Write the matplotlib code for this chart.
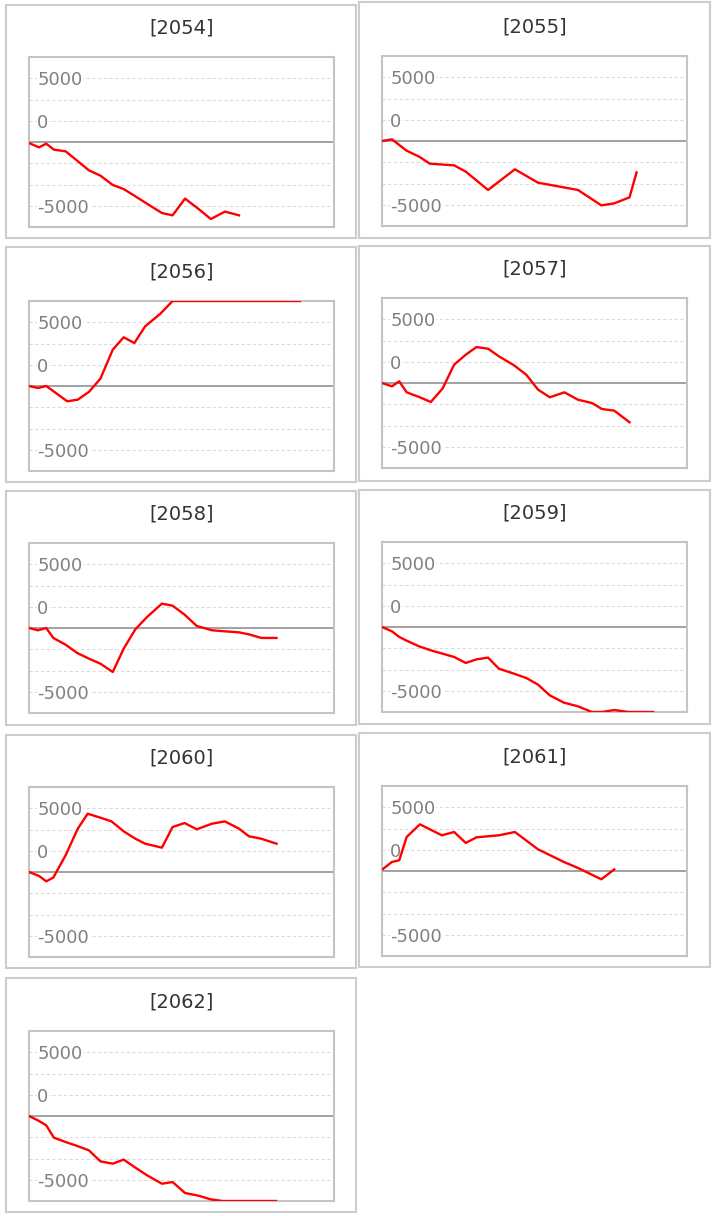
import matplotlib
matplotlib.use("Agg")
import matplotlib.pyplot as plt
from matplotlib.patches import Rectangle

# ---------------- data ----------------
titles = ["[2054]", "[2055]", "[2056]", "[2057]", "[2058]",
          "[2059]", "[2060]", "[2061]", "[2062]"]

x_2054 = [0, 0.85, 1.47, 2.12, 3.12, 4.1, 5.1, 6.09, 7.14, 8.07, 9.07, 10.06, 11.33, 12.24, 13.3, 14.45, 15.5, 16.7, 17.9]
y_2054 = [-80, -420, -130, -600, -730, -1460, -2220, -2640, -3370, -3690, -4260, -4840, -5570, -5750, -4440, -5250, -6040, -5460, -5750]

x_2055 = [0, 0.85, 2.1, 3.17, 4.08, 6.15, 7.14, 9.04, 11.33, 13.3, 16.7, 18.7, 19.8, 21.1, 21.7]
y_2055 = [0, 130, -760, -1230, -1780, -1910, -2400, -3840, -2220, -3270, -3840, -5050, -4890, -4420, -2460]

x_2056 = [0, 0.76, 1.47, 3.26, 4.16, 5.1, 6.09, 7.14, 8.07, 8.98, 9.9, 11.2, 12.24, 13.3, 14.35, 15.55, 16.7, 17.9, 18.75, 19.8, 21.1, 23.1]
y_2056 = [0, -160, 0, -1200, -1070, -470, 580, 2850, 3820, 3370, 4680, 5670, 6667, 6667, 6667, 6667, 6667, 6667, 6667, 6667, 6667, 6667]

x_2057 = [0, 0.85, 1.47, 2.1, 3.17, 4.16, 5.16, 6.15, 7.14, 8.05, 9.04, 9.97, 11.25, 12.3, 13.3, 14.3, 15.55, 16.7, 17.9, 18.75, 19.8, 21.1]
y_2057 = [0, -260, 130, -730, -1100, -1490, -440, 1440, 2220, 2820, 2690, 2090, 1390, 650, -520, -1120, -730, -1310, -1570, -2040, -2170, -3080]

x_2058 = [0, 0.76, 1.47, 2.07, 3.12, 4.11, 5.1, 6.09, 7.14, 8.07, 9.07, 10.06, 11.33, 12.24, 13.26, 14.3, 15.6, 16.7, 17.9, 18.75, 19.8, 21.1]
y_2058 = [0, -180, 0, -780, -1310, -1960, -2400, -2800, -3450, -1620, -100, 860, 1910, 1750, 1050, 160, -180, -260, -340, -500, -780, -780]

x_2059 = [0, 0.85, 1.47, 2.1, 3.17, 4.16, 5.16, 6.15, 7.14, 8.05, 9.04, 9.97, 11.25, 12.3, 13.3, 14.3, 15.5, 16.7, 17.9, 18.75, 19.8, 21.0, 23.1]
y_2059 = [0, -340, -780, -1070, -1520, -1830, -2090, -2350, -2820, -2540, -2400, -3270, -3660, -4000, -4520, -5360, -5930, -6220, -6667, -6667, -6510, -6667, -6667]

x_2060 = [0, 0.85, 1.47, 2.07, 3.12, 4.16, 5.0, 6.09, 7.03, 8.07, 9.07, 9.9, 11.33, 12.24, 13.26, 14.3, 15.6, 16.7, 17.9, 18.75, 19.8, 21.1]
y_2060 = [0, -310, -730, -440, 1310, 3400, 4570, 4260, 3970, 3190, 2610, 2220, 1910, 3530, 3840, 3350, 3790, 3970, 3400, 2800, 2610, 2220]

x_2061 = [0, 0.85, 1.47, 2.1, 3.23, 5.1, 6.15, 7.14, 8.05, 9.97, 11.33, 13.3, 15.5, 16.7, 18.7, 19.8]
y_2061 = [100, 710, 840, 2670, 3660, 2800, 3060, 2200, 2640, 2800, 3060, 1700, 710, 240, -650, 130]

x_2062 = [0, 0.76, 1.47, 2.12, 3.12, 4.11, 5.1, 6.09, 7.14, 8.07, 9.07, 10.06, 11.33, 12.24, 13.3, 14.45, 15.5, 16.5, 17.9, 19.8, 21.05]
y_2062 = [0, -340, -730, -1700, -2040, -2350, -2690, -3560, -3740, -3420, -4050, -4650, -5310, -5180, -6040, -6250, -6540, -6667, -6667, -6667, -6667]

ytick_values = [5000, 5000 / 3, -5000]
ytick_labels = ["5000", "0", "-5000"]
grid_values = [-5000, -10000 / 3, -5000 / 3, 5000 / 3, 10000 / 3, 5000]

series_x = [x_2054, x_2055, x_2056, x_2057, x_2058, x_2059, x_2060, x_2061, x_2062]
series_y = [y_2054, y_2055, y_2056, y_2057, y_2058, y_2059, y_2060, y_2061, y_2062]

# ---------------- layout (pixels) ----------------
W, H = 717, 1216
fig = plt.figure(figsize=(W / 100, H / 100), dpi=100)
fig.patch.set_facecolor("white")

# panel boxes: (left, top, right, bottom)
boxes = [(6, 5, 356, 238), (359, 2, 710, 237.5),
         (6, 247.5, 356, 482), (359, 246, 710, 481),
         (6, 491, 356, 725), (359, 490, 710, 723.5),
         (6, 735, 356, 968), (359, 732.5, 710, 967),
         (6, 977.5, 356, 1212)]
# axes: (left, top)
axes_pos = [(29, 57), (382, 56), (29, 301), (382, 298), (29, 543),
            (382, 542), (29, 787), (382, 786), (29, 1031)]
AW, AH = 305, 170
YLIM = 20000 / 3

for i in range(9):
    bl, bt, br, bb = boxes[i]
    fig.add_artist(Rectangle((bl / W, 1 - bb / H), (br - bl) / W, (bb - bt) / H,
                             transform=fig.transFigure, fill=False,
                             edgecolor="#cccccc", linewidth=1.5))
    l, t = axes_pos[i]
    ax = fig.add_axes([l / W, 1 - (t + AH) / H, AW / W, AH / H])
    ax.set_xlim(0, 26)
    ax.set_ylim(-YLIM, YLIM)
    for g in grid_values:
        ax.axhline(g, color="#d9d9d9", lw=0.75, linestyle=(0, (3, 2.5)), zorder=1)
    ax.axhline(0, color="#888888", lw=1.1, zorder=1.2)
    ax.plot(series_x[i], series_y[i], color="#ff0000", lw=1.7, zorder=2.6,
            solid_joinstyle="round")
    ax.set_xticks([])
    ax.set_yticks(ytick_values, labels=ytick_labels)
    ax.tick_params(axis="y", length=0, pad=-6, labelsize=13, labelcolor="#808080")
    for lab in ax.get_yticklabels():
        lab.set_horizontalalignment("left")
        lab.set_bbox(dict(facecolor="white", edgecolor="none", pad=0.5))
    ax.set_axisbelow("line")
    for s in ax.spines.values():
        s.set_color("#c4c4c4")
        s.set_linewidth(1.5)
        s.set_zorder(2.5)
    ax.text(0.5, 1 + 29 / AH, titles[i], transform=ax.transAxes,
            ha="center", va="center", fontsize=14, color="#333333")

fig.savefig("out.png", dpi=100, facecolor="white")
